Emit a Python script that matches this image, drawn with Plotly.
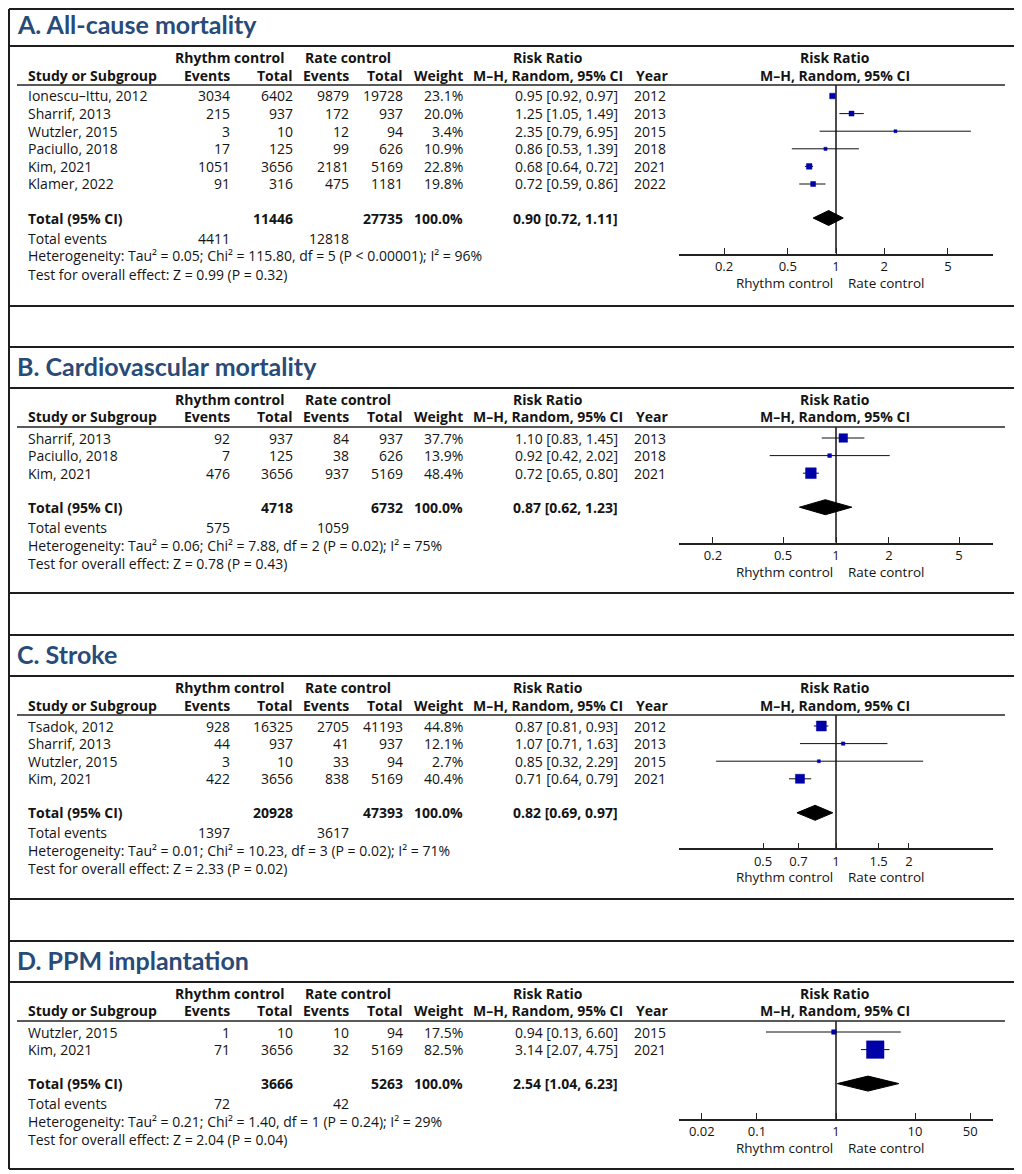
import plotly.graph_objects as go

# ---------------- data ----------------
A_title = "A. All-cause mortality"
A_studies = ["Ionescu–Ittu, 2012", "Sharrif, 2013", "Wutzler, 2015", "Paciullo, 2018", "Kim, 2021", "Klamer, 2022"]
A_rhythm_events = [3034, 215, 3, 17, 1051, 91]
A_rhythm_total = [6402, 937, 10, 125, 3656, 316]
A_rate_events = [9879, 172, 12, 99, 2181, 475]
A_rate_total = [19728, 937, 94, 626, 5169, 1181]
A_weight = [23.1, 20.0, 3.4, 10.9, 22.8, 19.8]
A_rr = [0.95, 1.25, 2.35, 0.86, 0.68, 0.72]
A_lo = [0.92, 1.05, 0.79, 0.53, 0.64, 0.59]
A_hi = [0.97, 1.49, 6.95, 1.39, 0.72, 0.86]
A_year = [2012, 2013, 2015, 2018, 2021, 2022]
A_totals = [11446, 27735]
A_total_events = [4411, 12818]
A_pooled = [0.90, 0.72, 1.11]
A_het = "Heterogeneity: Tau² = 0.05; Chi² = 115.80, df = 5 (P < 0.00001); I² = 96%"
A_test = "Test for overall effect: Z = 0.99 (P = 0.32)"
A_ticks = [0.2, 0.5, 1, 2, 5]
A_ticklabels = ["0.2", "0.5", "1", "2", "5"]

B_title = "B. Cardiovascular mortality"
B_studies = ["Sharrif, 2013", "Paciullo, 2018", "Kim, 2021"]
B_rhythm_events = [92, 7, 476]
B_rhythm_total = [937, 125, 3656]
B_rate_events = [84, 38, 937]
B_rate_total = [937, 626, 5169]
B_weight = [37.7, 13.9, 48.4]
B_rr = [1.10, 0.92, 0.72]
B_lo = [0.83, 0.42, 0.65]
B_hi = [1.45, 2.02, 0.80]
B_year = [2013, 2018, 2021]
B_totals = [4718, 6732]
B_total_events = [575, 1059]
B_pooled = [0.87, 0.62, 1.23]
B_het = "Heterogeneity: Tau² = 0.06; Chi² = 7.88, df = 2 (P = 0.02); I² = 75%"
B_test = "Test for overall effect: Z = 0.78 (P = 0.43)"
B_ticks = [0.2, 0.5, 1, 2, 5]
B_ticklabels = ["0.2", "0.5", "1", "2", "5"]

C_title = "C. Stroke"
C_studies = ["Tsadok, 2012", "Sharrif, 2013", "Wutzler, 2015", "Kim, 2021"]
C_rhythm_events = [928, 44, 3, 422]
C_rhythm_total = [16325, 937, 10, 3656]
C_rate_events = [2705, 41, 33, 838]
C_rate_total = [41193, 937, 94, 5169]
C_weight = [44.8, 12.1, 2.7, 40.4]
C_rr = [0.87, 1.07, 0.85, 0.71]
C_lo = [0.81, 0.71, 0.32, 0.64]
C_hi = [0.93, 1.63, 2.29, 0.79]
C_year = [2012, 2013, 2015, 2021]
C_totals = [20928, 47393]
C_total_events = [1397, 3617]
C_pooled = [0.82, 0.69, 0.97]
C_het = "Heterogeneity: Tau² = 0.01; Chi² = 10.23, df = 3 (P = 0.02); I² = 71%"
C_test = "Test for overall effect: Z = 2.33 (P = 0.02)"
C_ticks = [0.5, 0.7, 1, 1.5, 2]
C_ticklabels = ["0.5", "0.7", "1", "1.5", "2"]

D_title = "D. PPM implantation"
D_studies = ["Wutzler, 2015", "Kim, 2021"]
D_rhythm_events = [1, 71]
D_rhythm_total = [10, 3656]
D_rate_events = [10, 32]
D_rate_total = [94, 5169]
D_weight = [17.5, 82.5]
D_rr = [0.94, 3.14]
D_lo = [0.13, 2.07]
D_hi = [6.60, 4.75]
D_year = [2015, 2021]
D_totals = [3666, 5263]
D_total_events = [72, 42]
D_pooled = [2.54, 1.04, 6.23]
D_het = "Heterogeneity: Tau² = 0.21; Chi² = 1.40, df = 1 (P = 0.24); I² = 29%"
D_test = "Test for overall effect: Z = 2.04 (P = 0.04)"
D_ticks = [0.02, 0.1, 1, 10, 50]
D_ticklabels = ["0.02", "0.1", "1", "10", "50"]

panels = [
    dict(title=A_title, studies=A_studies, re=A_rhythm_events, rt=A_rhythm_total, ce=A_rate_events, ct=A_rate_total,
         w=A_weight, rr=A_rr, lo=A_lo, hi=A_hi, year=A_year, totals=A_totals, tev=A_total_events, pooled=A_pooled,
         het=A_het, test=A_test, ticks=A_ticks, ticklabels=A_ticklabels),
    dict(title=B_title, studies=B_studies, re=B_rhythm_events, rt=B_rhythm_total, ce=B_rate_events, ct=B_rate_total,
         w=B_weight, rr=B_rr, lo=B_lo, hi=B_hi, year=B_year, totals=B_totals, tev=B_total_events, pooled=B_pooled,
         het=B_het, test=B_test, ticks=B_ticks, ticklabels=B_ticklabels),
    dict(title=C_title, studies=C_studies, re=C_rhythm_events, rt=C_rhythm_total, ce=C_rate_events, ct=C_rate_total,
         w=C_weight, rr=C_rr, lo=C_lo, hi=C_hi, year=C_year, totals=C_totals, tev=C_total_events, pooled=C_pooled,
         het=C_het, test=C_test, ticks=C_ticks, ticklabels=C_ticklabels),
    dict(title=D_title, studies=D_studies, re=D_rhythm_events, rt=D_rhythm_total, ce=D_rate_events, ct=D_rate_total,
         w=D_weight, rr=D_rr, lo=D_lo, hi=D_hi, year=D_year, totals=D_totals, tev=D_total_events, pooled=D_pooled,
         het=D_het, test=D_test, ticks=D_ticks, ticklabels=D_ticklabels),
]

# ---------------- layout (pixels of the 1022x1174 page) ----------------
PAGE_W, PAGE_H = 1022, 1174
OFF = 8                      # default body margin of the page
W, H = PAGE_W - OFF, PAGE_H - OFF
FRAME_L, FRAME_R, FRAME_T, FRAME_B = 9, 1016, 9, 1169
box_top = [FRAME_T, 347, 635, 941]
title_line = [46, 388, 676, 982]
box_bottom = [306, 593, 899, FRAME_B]
log_half_range = [0.98, 0.892, 0.648, 1.987]
ROW = 17.6
FONT = "Open Sans"
FS = 14
TFONT = "Lato"
TXT = "#141414"
TITLE_COLOR = "#284b77"
SQ = "#0000a8"

def X(px):
    return (px - OFF) / W

def Y(py):
    return 1 - (py - OFF) / H

ann = []
shapes = []

def txt(x, y, s, anchor="left", bold=False, size=FS, color=TXT, family=FONT):
    ann.append(dict(x=X(x), y=Y(y), xref="paper", yref="paper",
                    text=("<b>%s</b>" % s) if bold else s, showarrow=False,
                    xanchor=anchor, yanchor="middle", borderpad=0, borderwidth=0,
                    font=dict(family=family, size=size, color=color)))

def hline(y, x0, x1, width=2, color="#1e1e1e"):
    shapes.append(dict(type="line", xref="paper", yref="paper", x0=X(x0), x1=X(x1),
                       y0=Y(y), y1=Y(y), line=dict(color=color, width=width)))

# outer frame
for xv in (FRAME_L, FRAME_R):
    shapes.append(dict(type="line", xref="paper", yref="paper", x0=X(xv), x1=X(xv),
                       y0=Y(FRAME_T), y1=Y(FRAME_B), line=dict(color="#1e1e1e", width=2)))

fig = go.Figure()

for k, p in enumerate(panels):
    T = title_line[k]
    hline(box_top[k], FRAME_L, FRAME_R)
    hline(T, FRAME_L, FRAME_R)
    hline(box_bottom[k], FRAME_L, FRAME_R)
    txt(17, (box_top[k] + T) / 2 - 1.5 - (2 if k == 0 else 0), p["title"], bold=True, size=25,
        color=TITLE_COLOR, family=TFONT)

    h1, h2, U = T + 11, T + 29, T + 39
    y0 = T + 50
    n = len(p["studies"])
    rows = [y0 + ROW * i for i in range(n)]
    ytot = rows[-1] + 34
    yte = ytot + 20
    yhet = yte + 18
    ytest = yhet + 18
    yax = yte + 15.5

    # headers
    txt(230, h1, "Rhythm control", "center", True)
    txt(348, h1, "Rate control", "center", True)
    txt(548, h1, "Risk Ratio", "center", True)
    txt(835, h1, "Risk Ratio", "center", True)
    txt(28, h2, "Study or Subgroup", "left", True)
    txt(230, h2, "Events", "right", True)
    txt(293, h2, "Total", "right", True)
    txt(349, h2, "Events", "right", True)
    txt(403, h2, "Total", "right", True)
    txt(463, h2, "Weight", "right", True)
    txt(548, h2, "M–H, Random, 95% CI", "center", True)
    txt(668, h2, "Year", "right", True)
    txt(835, h2, "M–H, Random, 95% CI", "center", True)
    hline(U, 17, 1005, width=1.5, color="#222")

    for i in range(n):
        y = rows[i]
        txt(28, y, p["studies"][i])
        txt(230, y, str(p["re"][i]), "right")
        txt(293, y, str(p["rt"][i]), "right")
        txt(349, y, str(p["ce"][i]), "right")
        txt(403, y, str(p["ct"][i]), "right")
        txt(463, y, "%.1f%%" % p["w"][i], "right")
        txt(618, y, "%.2f [%.2f, %.2f]" % (p["rr"][i], p["lo"][i], p["hi"][i]), "right")
        txt(666, y, str(p["year"][i]), "right")

    txt(28, ytot, "Total (95% CI)", "left", True)
    txt(293, ytot, str(p["totals"][0]), "right", True)
    txt(403, ytot, str(p["totals"][1]), "right", True)
    txt(463, ytot, "100.0%", "right", True)
    txt(618, ytot, "%.2f [%.2f, %.2f]" % tuple(p["pooled"]), "right", True)
    txt(28, yte, "Total events")
    txt(230, yte, str(p["tev"][0]), "right")
    txt(349, yte, str(p["tev"][1]), "right")
    txt(28, yhet, p["het"])
    txt(28, ytest, p["test"])

    # direction labels
    txt(833, yax + 29, "Rhythm control", "right", size=13.5)
    txt(848, yax + 29, "Rate control", "left", size=13.5)

    # forest axes
    sfx = "" if k == 0 else str(k + 1)
    top_val = (U - y0) / ROW
    bot_val = (yax - y0) / ROW
    r = log_half_range[k]
    fig.update_layout(**{
        "xaxis" + sfx: dict(type="log", range=[-r, r], domain=[X(679), X(993)], anchor="y" + sfx,
                            tickvals=p["ticks"], ticktext=p["ticklabels"], ticks="inside", ticklen=6,
                            tickwidth=1.2, tickcolor="#222", showline=True, linecolor="#222", linewidth=1.5,
                            showgrid=False, zeroline=False, fixedrange=True,
                            tickfont=dict(family=FONT, size=13, color=TXT)),
        "yaxis" + sfx: dict(range=[bot_val, top_val], domain=[Y(yax), Y(U)], anchor="x" + sfx,
                            visible=False, fixedrange=True),
    })
    xr, yr = "x" + sfx, "y" + sfx

    # line of no effect
    fig.add_trace(go.Scatter(x=[1, 1], y=[top_val, bot_val], mode="lines", xaxis=xr, yaxis=yr,
                             line=dict(color="#111", width=1.5), hoverinfo="skip", showlegend=False))
    # CI lines
    cx, cy = [], []
    for i in range(n):
        cx += [p["lo"][i], p["hi"][i], None]
        cy += [i, i, None]
    fig.add_trace(go.Scatter(x=cx, y=cy, mode="lines", xaxis=xr, yaxis=yr,
                             line=dict(color="#111", width=1), hoverinfo="skip", showlegend=False))
    # squares
    sizes = [max(3, 0.2 * w + 1) for w in p["w"]]
    fig.add_trace(go.Scatter(x=p["rr"], y=list(range(n)), mode="markers", xaxis=xr, yaxis=yr,
                             marker=dict(symbol="square", size=sizes, color=SQ, opacity=1,
                                         line=dict(width=0.5, color=SQ)),
                             hoverinfo="skip", showlegend=False))
    # diamond
    ti = (ytot - y0) / ROW
    dh = 7.5 / ROW
    est, lo, hi = p["pooled"]
    fig.add_trace(go.Scatter(x=[lo, est, hi, est, lo], y=[ti, ti - dh, ti, ti + dh, ti], mode="lines",
                             fill="toself", fillcolor="#000", line=dict(color="#000", width=1),
                             xaxis=xr, yaxis=yr, hoverinfo="skip", showlegend=False))

fig.update_layout(width=W, height=H, margin=dict(l=0, r=0, t=0, b=0), paper_bgcolor="white",
                  plot_bgcolor="rgba(0,0,0,0)", annotations=ann, shapes=shapes, showlegend=False)
fig.write_html("out.html")
